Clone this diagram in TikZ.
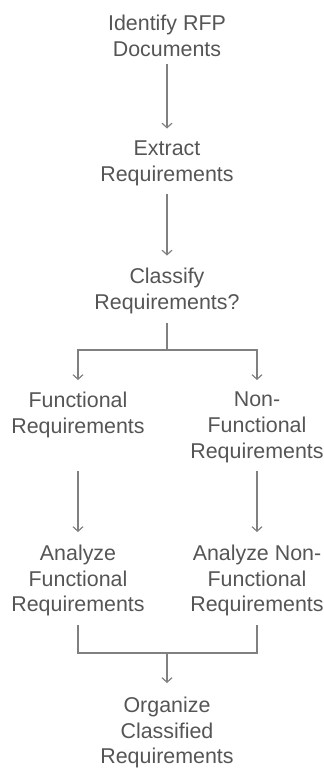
\documentclass[tikz,border=0pt]{standalone}
\usepackage{fontspec}
\setmainfont{Liberation Sans}
\usetikzlibrary{arrows.meta}
\definecolor{txt}{HTML}{555555}
\definecolor{lnc}{HTML}{808080}
\begin{document}
\begin{tikzpicture}[x=1pt,y=1pt,
  lbl/.style={anchor=north, inner sep=0pt, align=center, text=txt,
    font=\fontsize{21.4}{25.8}\selectfont},
  ln/.style={draw=lnc, line width=1.2pt},
  arr/.style={ln, -{Straight Barb[length=4.5pt,width=10pt]}}]
\useasboundingbox (0,0) rectangle (324,-769);
\node[lbl] (n1) at (167,-14.5) {Identify RFP\\Documents};
\node[lbl] (n2) at (167,-140.5) {Extract\\Requirements};
\node[lbl] (n3) at (167,-267.5) {Classify\\Requirements?};
\node[lbl] (n4) at (78,-391.5) {Functional\\Requirements};
\node[lbl] (n5) at (257,-391.5) {Non-\\Functional\\Requirements};
\node[lbl] (n6) at (78,-544.5) {Analyze\\Functional\\Requirements};
\node[lbl] (n7) at (257,-544.5) {Analyze Non-\\Functional\\Requirements};
\node[lbl] (n8) at (167,-696.5) {Organize\\Classified\\Requirements};
\coordinate (s1) at (167,-350);
\coordinate (m1) at (167,-653);
\draw[arr, shorten <=8pt, shorten >=12pt] (n1) -- (n2);
\draw[arr, shorten <=8pt, shorten >=12pt] (n2) -- (n3);
\draw[ln, shorten <=9.5pt] (n3.south) -- (s1);
\draw[arr, shorten >=11.5pt] (s1) -| (n4.north);
\draw[arr, shorten >=11.5pt] (s1) -| (n5.north);
\draw[arr, shorten <=8.5pt, shorten >=12.5pt] (n4.south |- n5.south) -- (n6.north);
\draw[arr, shorten <=8.5pt, shorten >=12.5pt] (n5.south) -- (n7.north);
\draw[ln, shorten <=8.5pt] (n6.south) |- (m1);
\draw[ln, shorten <=8.5pt] (n7.south) |- (m1);
\draw[arr, shorten >=13.5pt] (m1) -- (n8.north);
\end{tikzpicture}
\end{document}
